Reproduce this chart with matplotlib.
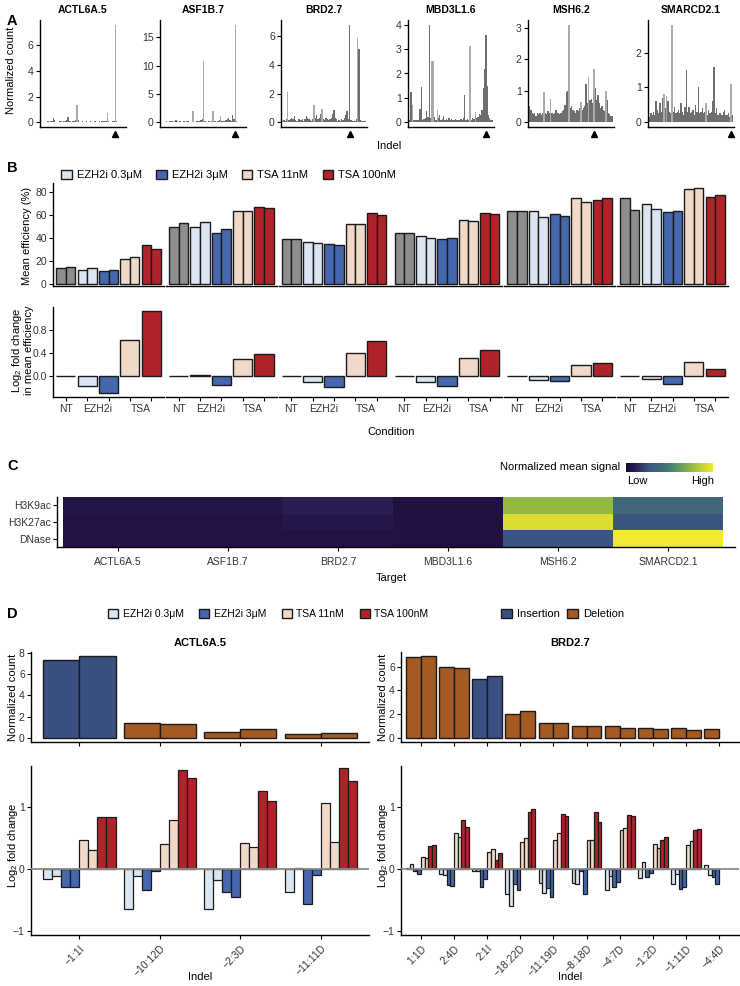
import numpy as np
import matplotlib.pyplot as plt
from matplotlib.patches import Patch
from matplotlib.ticker import MultipleLocator
from matplotlib.colors import LinearSegmentedColormap

plt.rcParams['font.family'] = ['Liberation Sans', 'DejaVu Sans']
plt.rcParams['mathtext.fontset'] = 'custom'
plt.rcParams['mathtext.rm'] = 'Liberation Sans'
plt.rcParams['axes.linewidth'] = 1.0

# ---------------- data ----------------
targets = ['ACTL6A.5', 'ASF1B.7', 'BRD2.7', 'MBD3L1.6', 'MSH6.2', 'SMARCD2.1']

# panel A: normalized count per indel (ordered), light = seen in one replicate
prof_actl6a = [0.02, 0.03, 0.02, 0.04, 0.03, 0.05, 0.04, 0.06, 0.10, 0.30,
               0.15, 0.03, 0.04, 0.02, 0.05, 0.06, 0.04, 0.08, 0.10, 0.15,
               0.38, 0.12, 0.05, 0.04, 0.06, 0.10, 0.20, 1.35, 0.15, 0.04,
               0.03, 0.05, 0.04, 0.03, 0.06, 0.04, 0.03, 0.05, 0.04, 0.03,
               0.05, 0.06, 0.04, 0.03, 0.05, 0.04, 0.06, 0.08, 0.10, 0.12,
               0.70, 0.10, 0.03, 0.04, 0.05, 0.06, 7.60, 0.10, 0.03, 0.04,
               0.03, 0.02, 0.03, 0.02]
prof_asf1b = [0.05, 0.10, 0.08, 0.05, 0.12, 0.10, 0.20, 0.25, 0.15, 0.10,
              0.20, 0.30, 0.15, 0.10, 0.20, 0.08, 0.10, 0.12, 0.08, 0.15,
              0.20, 0.10, 0.08, 0.10, 2.00, 0.10, 0.08, 0.12, 0.15, 0.20,
              0.30, 0.50, 10.8, 0.20, 0.10, 0.08, 0.12, 0.10, 0.15, 2.00,
              0.20, 0.15, 0.10, 0.20, 0.30, 1.00, 0.20, 0.15, 0.20, 0.30,
              0.50, 0.70, 0.40, 0.20, 1.20, 0.50, 17.2, 0.20, 0.10, 0.08,
              0.05, 0.08, 0.05, 0.04]
prof_brd2 = [0.10, 0.15, 0.10, 0.20, 2.10, 0.15, 0.20, 0.30, 0.20, 0.40,
             0.15, 0.10, 0.20, 0.25, 0.15, 0.20, 0.10, 0.25, 0.40, 0.30,
             0.20, 0.15, 0.10, 0.20, 1.20, 0.30, 0.50, 0.20, 0.30, 0.60,
             0.95, 0.20, 0.15, 0.30, 0.20, 0.15, 0.20, 0.30, 0.60, 0.85,
             0.30, 0.20, 0.10, 0.15, 0.10, 0.20, 0.15, 0.30, 0.50, 0.75,
             0.20, 6.80, 0.15, 0.10, 0.08, 0.10, 0.20, 5.90, 5.10, 0.15,
             0.10, 0.08, 0.10, 0.05]
prof_mbd3l1 = [0.10, 1.25, 0.70, 0.10, 0.08, 0.10, 0.08, 0.10, 0.55, 1.45,
               0.10, 0.12, 0.15, 0.45, 0.20, 4.00, 0.15, 2.50, 2.50, 0.20,
               0.10, 0.50, 0.15, 0.30, 0.10, 0.12, 0.25, 0.10, 0.12, 0.10,
               0.15, 0.10, 0.12, 0.10, 0.08, 0.12, 0.10, 0.08, 0.10, 0.12,
               0.10, 0.15, 1.10, 0.10, 0.12, 0.08, 3.15, 0.10, 0.15, 0.12,
               0.40, 0.15, 0.20, 0.35, 0.30, 0.50, 1.40, 2.20, 3.60, 1.50,
               0.30, 0.15, 0.10, 0.08]
prof_msh6 = [0.50, 0.40, 0.30, 0.25, 0.30, 0.20, 0.28, 0.25, 0.30, 0.22,
             0.30, 0.95, 0.30, 0.25, 0.35, 0.28, 0.75, 0.30, 0.25, 0.30,
             0.40, 0.28, 0.30, 0.25, 0.30, 0.35, 0.40, 0.55, 0.95, 1.00,
             3.10, 0.45, 0.50, 0.40, 0.35, 0.30, 0.40, 0.35, 0.45, 0.65,
             0.40, 0.45, 0.50, 1.20, 0.60, 1.45, 0.70, 0.75, 0.60, 1.70,
             1.10, 0.70, 0.85, 0.60, 0.45, 0.50, 0.40, 0.35, 1.00, 0.70,
             0.30, 0.25, 0.20, 0.20]
prof_smarcd2 = [0.15, 0.25, 0.20, 0.30, 0.20, 0.60, 0.35, 0.25, 0.55, 0.30,
                0.70, 0.80, 0.40, 0.75, 0.60, 0.30, 0.25, 2.80, 0.30, 0.45,
                0.25, 0.30, 0.35, 0.25, 0.55, 0.30, 0.20, 0.45, 1.50, 0.30,
                0.45, 0.25, 0.30, 0.35, 0.20, 0.50, 0.30, 1.00, 0.25, 0.30,
                0.40, 0.25, 0.30, 0.55, 0.20, 0.35, 0.25, 0.30, 0.60, 1.60,
                0.25, 0.40, 0.20, 0.25, 0.25, 0.20, 0.30, 0.35, 0.20, 0.20,
                0.25, 0.15, 1.10, 0.20]
profiles = [prof_actl6a, prof_asf1b, prof_brd2, prof_mbd3l1, prof_msh6, prof_smarcd2]
light_idx = [[27, 50, 56], [24, 32, 39, 45, 56], [4, 24, 30, 57],
             [2, 17, 18, 21, 46, 50], [11, 16, 30, 39, 45, 49, 58], [11, 13, 17, 43, 62]]
arrow_idx = [56, 56, 51, 58, 49, 62]
ytick_step = [2, 5, 2, 1, 1, 1]

# panel B: mean efficiency (%) per condition, two replicates
conditions = ['NT', 'EZH2i 0.3μM', 'EZH2i 3μM', 'TSA 11nM', 'TSA 100nM']
eff_rep1 = [[14.2, 12.2, 11.6, 22.0, 34.0],
            [50.0, 49.4, 44.2, 63.7, 67.4],
            [39.2, 36.3, 35.2, 52.0, 61.6],
            [44.8, 41.9, 39.2, 55.8, 61.6],
            [63.7, 63.7, 61.0, 74.7, 73.0],
            [75.3, 69.8, 62.8, 82.6, 75.9]]
eff_rep2 = [[15.1, 14.0, 12.2, 23.8, 30.8],
            [52.9, 53.8, 48.3, 63.4, 66.3],
            [39.2, 35.5, 33.7, 52.0, 59.9],
            [44.5, 40.4, 39.8, 55.2, 61.0],
            [63.7, 58.1, 59.3, 71.5, 75.3],
            [64.5, 65.1, 64.0, 83.4, 77.3]]
lfc_mean = [[0, -0.176, -0.29, 0.62, 1.12],
            [0, 0.017, -0.148, 0.30, 0.375],
            [0, -0.11, -0.19, 0.40, 0.61],
            [0, -0.11, -0.176, 0.31, 0.45],
            [0, -0.06, -0.08, 0.19, 0.22],
            [0, -0.05, -0.14, 0.25, 0.125]]
cond_ticks = ['NT', 'EZH2i', 'TSA']

# panel C: normalized mean signal (rows = marks, cols = targets)
marks = ['H3K9ac', 'H3K27ac', 'DNase']
signal = [[0.06, 0.06, 0.10, 0.04, 0.75, 0.40],
          [0.05, 0.05, 0.07, 0.04, 0.93, 0.26],
          [0.05, 0.05, 0.05, 0.04, 0.27, 1.00]]

# panel D: top indels, counts (two NT replicates) and log2 FC per treatment replicate
actl_indels = ['−1:1I', '−10:12D', '−2:3D', '−11:11D']
actl_type = ['Insertion', 'Deletion', 'Deletion', 'Deletion']
actl_cnt1 = [7.34, 1.36, 0.57, 0.32]
actl_cnt2 = [7.66, 1.30, 0.79, 0.44]
actl_lfc = [[-0.16, -0.11, -0.30, -0.30, 0.46, 0.31, 0.84, 0.83],
            [-0.645, -0.11, -0.34, -0.03, 0.40, 0.79, 1.60, 1.47],
            [-0.645, -0.18, -0.376, -0.45, 0.42, 0.35, 1.25, 1.10],
            [-0.376, 0.016, -0.565, -0.097, 1.06, 0.44, 1.62, 1.41]]

brd_indels = ['1:1D', '2:4D', '2:1I', '−18:22D', '−11:19D', '−8:18D',
              '−4:7D', '−1:2D', '−1:11D', '−4:4D']
brd_type = ['Deletion', 'Deletion', 'Insertion'] + ['Deletion'] * 7
brd_cnt1 = [6.80, 6.00, 4.99, 2.01, 1.22, 0.99, 1.02, 0.82, 0.79, 0.76]
brd_cnt2 = [6.88, 5.89, 5.18, 2.27, 1.22, 0.96, 0.82, 0.74, 0.68, np.nan]
brd_lfc = [[0.02, 0.08, -0.03, -0.08, 0.19, 0.18, 0.36, 0.39],
           [-0.09, -0.10, -0.27, -0.28, 0.58, 0.51, 0.78, 0.67],
           [-0.03, -0.03, -0.29, -0.17, 0.27, 0.32, 0.14, 0.25],
           [-0.41, -0.60, -0.24, -0.34, 0.44, 0.50, 0.91, 0.97],
           [-0.23, -0.39, -0.31, -0.46, 0.47, 0.58, 0.88, 0.86],
           [-0.23, -0.25, -0.04, -0.40, 0.46, 0.46, 0.91, 0.75],
           [-0.34, -0.12, -0.30, -0.22, 0.63, 0.66, 0.87, 0.85],
           [-0.15, 0.11, -0.14, -0.07, 0.40, 0.33, 0.47, 0.52],
           [-0.25, -0.08, -0.32, -0.29, 0.38, 0.45, 0.62, 0.65],
           [0.06, -0.10, -0.14, -0.25, np.nan, np.nan, np.nan, np.nan]]

# ---------------- styling ----------------
cond_colors = ['#8e8e8e', '#dce6f3', '#4467ad', '#f1d9ca', '#b0232a']
trt_colors = ['#dce6f3', '#dce6f3', '#4467ad', '#4467ad',
              '#f1d9ca', '#f1d9ca', '#b0232a', '#b0232a']
type_colors = {'Insertion': '#3a5080', 'Deletion': '#a65a23'}
EDGE = '#1a1a1a'
TXT = '#333333'

W, H = 740, 986
fig = plt.figure(figsize=(7.4, 9.86), dpi=100)


def ax_px(l, t, w, h):
    return fig.add_axes([l / W, 1 - (t + h) / H, w / W, h / H])


def ftext(x, y, s, **kw):
    kw.setdefault('ha', 'center')
    kw.setdefault('va', 'center')
    return fig.text(x / W, 1 - y / H, s, **kw)


def clean(ax, left=True):
    ax.spines['top'].set_visible(False)
    ax.spines['right'].set_visible(False)
    ax.spines['left'].set_visible(left)
    ax.tick_params(labelsize=7.5, length=3, width=0.8, pad=1.5, labelcolor=TXT)


# ---------------- panel A ----------------
ftext(12, 21, 'A', fontsize=10.5, fontweight='bold')
a_lefts = [40, 160, 281, 408, 528, 648]
for k, name in enumerate(targets):
    vals = np.array(profiles[k])
    pos = np.arange(len(vals))
    light = np.isin(pos, light_idx[k])
    ax = ax_px(a_lefts[k], 20, 86, 107)
    clean(ax)
    ax.bar(pos[light], vals[light], width=1.0, color='#ababab', lw=0)
    ax.bar(pos[~light], vals[~light], width=1.0, color='#6e6e6e', lw=0)
    m = vals.max()
    ax.set_ylim(-0.05 * m, 1.05 * m)
    ax.set_xlim(-1.2, len(vals) + 0.2)
    ax.yaxis.set_major_locator(MultipleLocator(ytick_step[k]))
    ax.set_xticks([])
    ax.plot([arrow_idx[k]], [-0.065], marker='^', ms=4.5, color='black',
            transform=ax.get_xaxis_transform(), clip_on=False)
    ax.set_title(name, fontsize=7.5, fontweight='bold', pad=5)
ftext(11, 70, 'Normalized count', rotation=90, fontsize=8)
ftext(389, 146, 'Indel', fontsize=8)

# ---------------- panel B ----------------
ftext(12, 168, 'B', fontsize=10.5, fontweight='bold')
handles = [Patch(facecolor=c, edgecolor=EDGE, lw=1.0) for c in cond_colors[1:]]
fig.legend(handles, conditions[1:], loc='center left',
           bbox_to_anchor=(61 / W, 1 - 175 / H), ncol=4, frameon=False,
           fontsize=8, handlelength=0.95, handleheight=0.95, handletextpad=0.45,
           columnspacing=1.3, borderpad=0, borderaxespad=0)

x5 = np.arange(1, 6)
for f in range(6):
    l = 53 + f * 112.8
    ax = ax_px(l, 183, 111, 103)
    clean(ax, left=(f == 0))
    ax.bar(x5 - 0.225, eff_rep1[f], 0.45, color=cond_colors, edgecolor=EDGE, lw=1.0)
    ax.bar(x5 + 0.225, eff_rep2[f], 0.45, color=cond_colors, edgecolor=EDGE, lw=1.0)
    ax.set_xlim(0.4, 5.6)
    ax.set_ylim(-1.5, 88)
    ax.set_xticks([])
    if f == 0:
        ax.set_yticks([0, 20, 40, 60, 80])
    else:
        ax.set_yticks([])

    ax2 = ax_px(l, 307, 111, 90)
    clean(ax2, left=(f == 0))
    ax2.xaxis.remove_overlapping_locs = False
    ax2.bar(x5, lfc_mean[f], 0.9, color=cond_colors, edgecolor=EDGE, lw=1.0)
    ax2.set_xlim(0.4, 5.6)
    ax2.set_ylim(-0.36, 1.19)
    ax2.set_xticks(x5)
    ax2.set_xticklabels([])
    ax2.set_xticks([1, 2.5, 4.5], minor=True)
    ax2.set_xticklabels(cond_ticks, minor=True)
    ax2.tick_params(axis='x', which='minor', length=0, pad=5, labelsize=7.5, labelcolor=TXT)
    if f == 0:
        ax2.set_yticks([0.0, 0.4, 0.8])
        ax2.set_yticklabels(['0.0', '0.4', '0.8'])
    else:
        ax2.set_yticks([])

ftext(27, 236, 'Mean efficiency (%)', rotation=90, fontsize=8)
ftext(22, 350, 'Log$_\\mathregular{2}$ fold change\nin mean efficiency', rotation=90,
      fontsize=8, linespacing=0.95)
ftext(391, 432, 'Condition', fontsize=8)

# ---------------- panel C ----------------
ftext(13, 466, 'C', fontsize=10.5, fontweight='bold')
cmap = LinearSegmentedColormap.from_list('sig', [
    (0.0, '#1a0933'), (0.1, '#2a1d55'), (0.26, '#3a5680'), (0.40, '#416878'),
    (0.55, '#4e8c6c'), (0.75, '#93b843'), (0.93, '#d9dd32'), (1.0, '#f2e934')])
axc = ax_px(57, 497, 678, 50)
clean(axc)
axc.pcolormesh(np.arange(0.5, len(targets) + 0.6), np.arange(0.5, len(marks) + 0.6),
               np.array(signal), cmap=cmap, vmin=0, vmax=1)
axc.set_xlim(0.445, 6.61)
axc.set_ylim(3.5, 0.5)
axc.set_xticks(np.arange(1, len(targets) + 1))
axc.set_xticklabels(targets)
axc.set_yticks(np.arange(1, len(marks) + 1))
axc.set_yticklabels(marks)
axc.tick_params(axis='x', pad=4)

cax = ax_px(626, 463, 87, 9)
cax.imshow(np.linspace(0, 1, 256)[None, :], aspect='auto', cmap=cmap)
cax.axis('off')
ftext(620, 467, 'Normalized mean signal', ha='right', fontsize=8)
ftext(637, 481, 'Low', fontsize=8)
ftext(703, 481, 'High', fontsize=8)
ftext(391, 578, 'Target', fontsize=8)

# ---------------- panel D ----------------
ftext(12, 614, 'D', fontsize=10.5, fontweight='bold')
fig.legend(handles, conditions[1:], loc='center left',
           bbox_to_anchor=(108 / W, 1 - 614 / H), ncol=4, frameon=False,
           fontsize=7.5, handlelength=0.95, handleheight=0.95, handletextpad=0.45,
           columnspacing=1.5, borderpad=0, borderaxespad=0)
type_handles = [Patch(facecolor=type_colors[t], edgecolor=EDGE, lw=1.0)
                for t in ['Insertion', 'Deletion']]
fig.legend(type_handles, ['Insertion', 'Deletion'], loc='center left',
           bbox_to_anchor=(501 / W, 1 - 614 / H), ncol=2, frameon=False,
           fontsize=8, handlelength=0.95, handleheight=0.95, handletextpad=0.45,
           columnspacing=0.7, borderpad=0, borderaxespad=0)

d_panels = [
    (31, 'ACTL6A.5', actl_indels, actl_type, actl_cnt1, actl_cnt2, actl_lfc, 8.05, [0, 2, 4, 6, 8]),
    (401, 'BRD2.7', brd_indels, brd_type, brd_cnt1, brd_cnt2, brd_lfc, 7.22, [0, 2, 4, 6]),
]
offs = (np.arange(8) - 3.5) * 0.1125
for l, name, indels, types, c1, c2, lfc, ymax, yt in d_panels:
    n = len(indels)
    xi = np.arange(1, n + 1)
    cols = [type_colors[t] for t in types]

    ax = ax_px(l, 652, 338, 90)
    clean(ax)
    ax.bar(xi - 0.225, c1, 0.45, color=cols, edgecolor=EDGE, lw=1.0)
    ax.bar(xi + 0.225, c2, 0.45, color=cols, edgecolor=EDGE, lw=1.0)
    ax.set_xlim(0.4, n + 0.6)
    ax.set_ylim(-0.048 * ymax, ymax)
    ax.set_yticks(yt)
    ax.set_xticks(xi)
    ax.set_xticklabels([])
    ax.set_title(name, fontsize=8, fontweight='bold', pad=4)
    ftext(l - 18, 697, 'Normalized count', rotation=90, fontsize=8)

    ax2 = ax_px(l, 766, 338, 169)
    clean(ax2)
    vals = np.array(lfc)
    for j in range(8):
        ax2.bar(xi + offs[j], vals[:, j], 0.1125, color=trt_colors[j],
                edgecolor=EDGE, lw=0.9)
    ax2.axhline(0, color='#8a8a8a', lw=1.3, zorder=4)
    ax2.set_xlim(0.4, n + 0.6)
    ax2.set_ylim(-1.07, 1.66)
    ax2.set_yticks([-1, 0, 1])
    ax2.set_xticks(xi)
    ax2.set_xticklabels(indels, rotation=45, ha='right', va='top',
                        rotation_mode='anchor')
    ax2.tick_params(axis='x', pad=3)
    ftext(l - 18, 845, 'Log$_\\mathregular{2}$ fold change', rotation=90, fontsize=8)
    ftext(l + 169, 977, 'Indel', fontsize=8)

fig.savefig('out.png', dpi=100)
